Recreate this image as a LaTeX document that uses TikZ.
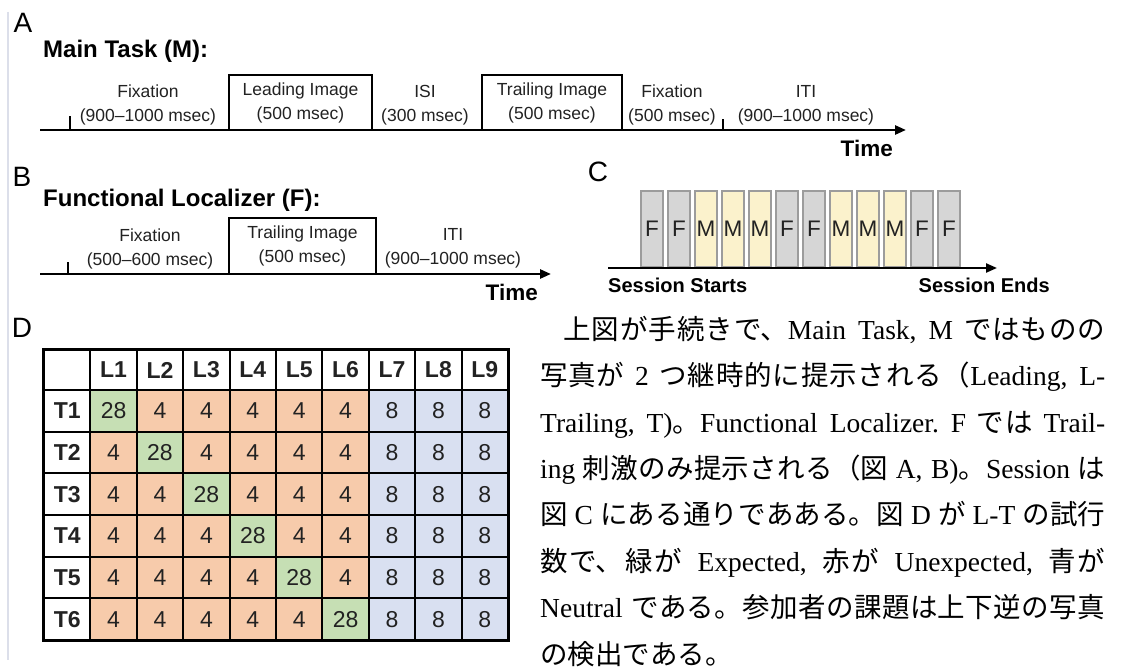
\documentclass[tikz,border=0pt]{standalone}
\usepackage{fontspec}
\setsansfont{Liberation Sans}
\newfontfamily\jpfont{Noto Sans CJK JP}
\newfontfamily\latfont{Liberation Serif}
\usetikzlibrary{arrows.meta}
\XeTeXlinebreaklocale "ja"
\XeTeXlinebreakskip=0pt plus 0.6pt minus 0.4pt
\definecolor{ink}{HTML}{222222}
\definecolor{edgeline}{HTML}{DCDFEA}
\definecolor{fgray}{HTML}{D6D6D6}
\definecolor{myellow}{HTML}{FBF2CC}
\definecolor{blkedge}{HTML}{9C9C9C}
\definecolor{expect}{HTML}{C6DFB4}
\definecolor{unexp}{HTML}{F7CBAB}
\definecolor{neutral}{HTML}{D9E0F1}
\tikzset{
  panel/.style={font=\sffamily\fontsize{28}{32}\selectfont, text=black, inner sep=0},
  ttl/.style={font=\sffamily\bfseries\fontsize{24}{28}\selectfont, text=black, anchor=west, inner sep=0},
  timelbl/.style={font=\sffamily\bfseries\fontsize{22.5}{26}\selectfont, text=black, anchor=east, inner sep=0},
  sesslbl/.style={font=\sffamily\bfseries\fontsize{20}{24}\selectfont, text=black, inner sep=0},
  lbl/.style={font=\sffamily\fontsize{17.5}{24}\selectfont, text=ink, align=center, inner sep=0},
  tline/.style={line width=2.5pt, line cap=butt},
  tarrow/.style={tline, -{Triangle[length=11pt,width=9pt]}},
  tick/.style={line width=2pt},
  stim/.style={draw=black, line width=2.5pt, inner sep=0, lbl},
  blk/.style={draw=blkedge, line width=1.2pt, minimum width=22pt, minimum height=76pt, inner sep=0,
              font=\sffamily\fontsize{22.5}{26}\selectfont, text=ink},
  fblk/.style={blk, fill=fgray},
  mblk/.style={blk, fill=myellow},
  cell/.style={draw=black, line width=2pt, minimum width=46.4pt, inner sep=0},
  hcell/.style={cell, fill=white, font=\sffamily\bfseries\fontsize{23}{26}\selectfont, text=ink},
  ncell/.style={cell, minimum height=41.67pt, font=\sffamily\fontsize{23}{26}\selectfont, text=ink},
}
\begin{document}
\begin{tikzpicture}[x=1pt,y=-1pt]
\useasboundingbox[fill=white] (0,0) rectangle (1123,671);

% faint page edge
\coordinate (edgeT) at (8,12);
\coordinate (edgeB) at (8,660);
\draw[edgeline, line width=1.5pt] (edgeT) -- (edgeB);

% ---------- A: main task ----------
\node[panel] (labA) at (23,23) {A};
\node[ttl] (ttlA) at (43,51) {Main Task (M):};
\coordinate (a0) at (40,130);
\coordinate (a1) at (906,130);
\coordinate (ta0) at (70,130);
\coordinate (ta0t) at (70,116);
\coordinate (ta1) at (723,130);
\coordinate (ta1t) at (723,119);
\node[stim, minimum width=143pt, minimum height=55pt] (lead) at (300.5,102.5) {Leading Image\\(500 msec)};
\node[stim, minimum width=140pt, minimum height=55pt] (trailA) at (552,102.5) {Trailing Image\\(500 msec)};
\node[lbl] (fixA) at (148,105) {Fixation\\(900–1000 msec)};
\node[lbl] (isi) at (425,105) {ISI\\(300 msec)};
\node[lbl] (fix2) at (672,105) {Fixation\\(500 msec)};
\node[lbl] (itiA) at (806,105) {ITI\\(900–1000 msec)};
\draw[tarrow] (a0) -- (a1);
\draw[tick] (ta0) -- (ta0t);
\draw[tick] (ta1) -- (ta1t);
\node[timelbl] (timeA) at (893,148) {Time};

% ---------- B: functional localizer ----------
\node[panel] (labB) at (22,177) {B};
\node[ttl] (ttlB) at (43,200) {Functional Localizer (F):};
\coordinate (b0) at (40,274);
\coordinate (b1) at (551,274);
\coordinate (tb0) at (68,274);
\coordinate (tb0t) at (68,262);
\node[stim, minimum width=147pt, minimum height=56pt] (trailB) at (302.5,246) {Trailing Image\\(500 msec)};
\node[lbl] (fixB) at (150,248.5) {Fixation\\(500–600 msec)};
\node[lbl] (itiB) at (453,248.5) {ITI\\(900–1000 msec)};
\draw[tarrow] (b0) -- (b1);
\draw[tick] (tb0) -- (tb0t);
\node[timelbl] (timeB) at (538,292) {Time};

% ---------- C: session order ----------
\node[panel] (labC) at (598,172) {C};
\foreach \k/\t/\s in {0/F/fblk,1/F/fblk,2/M/mblk,3/M/mblk,4/M/mblk,5/F/fblk,
                      6/F/fblk,7/M/mblk,8/M/mblk,9/M/mblk,10/F/fblk,11/F/fblk}
  \node[\s] (s\k) at ({652+27*\k},229) {\t};
\coordinate (c0) at (608,268);
\coordinate (c1) at (997,268);
\draw[tarrow, line width=2.2pt] (c0) -- (c1);
\node[sesslbl, anchor=west] (sstart) at (608,285) {Session Starts};
\node[sesslbl, anchor=east] (send) at (1050,285) {Session Ends};

% ---------- D: trial counts ----------
\node[panel] (labD) at (22,328) {D};
\def\colw{46.4}
\def\rowh{41.67}
\def\tx{44}
\def\ty{350}
\node[hcell, minimum height=40pt] (h0) at ({\tx+\colw*0.5},{\ty+20}) {};
\foreach \c in {1,...,9}
  \node[hcell, minimum height=40pt] (h\c) at ({\tx+\colw*(\c+0.5)},{\ty+20}) {L\c};
\foreach \r in {1,...,6}{
  \node[hcell, minimum height=41.67pt] (t\r) at ({\tx+\colw*0.5},{\ty+40+\rowh*(\r-0.5)}) {T\r};
  \foreach \c in {1,...,9}{
    \ifnum\c>6 \def\cf{neutral}\def\cv{8}\else
      \ifnum\c=\r \def\cf{expect}\def\cv{28}\else\def\cf{unexp}\def\cv{4}\fi
    \fi
    \node[ncell, fill=\cf] (m\r-\c) at ({\tx+\colw*(\c+0.5)},{\ty+40+\rowh*(\r-0.5)}) {\cv};
  }
}
\draw[line width=2.8pt] (h0.north west) rectangle (m6-9.south east);

% ---------- explanatory paragraph ----------
\node[anchor=north west, inner sep=0, text width=565pt, align=justify,
      font=\jpfont\fontsize{27.5}{46.4}\selectfont, text=black] (para) at (540,314) {%
\tolerance=10000 \hyphenpenalty=10000 \frenchspacing
\rule{0pt}{25pt}\hspace*{0.85em}上図が手続きで、{\latfont Main Task, M} ではものの\linebreak
写真が {\latfont 2} つ継時的に提示される（{\latfont Leading, L-}\linebreak
{\latfont Trailing, T)}。{\latfont Functional Localizer. F} では {\latfont Trail-}\linebreak
{\latfont ing} 刺激のみ提示される（図 {\latfont A, B)}。{\latfont Session} は\linebreak
図 {\latfont C} にある通りであある。図 {\latfont D} が {\latfont L-T} の試行\linebreak
数で、緑が {\latfont Expected,} 赤が {\latfont Unexpected,} 青が\linebreak
{\latfont Neutral} である。参加者の課題は上下逆の写真\linebreak
の検出である。};
\end{tikzpicture}
\end{document}
